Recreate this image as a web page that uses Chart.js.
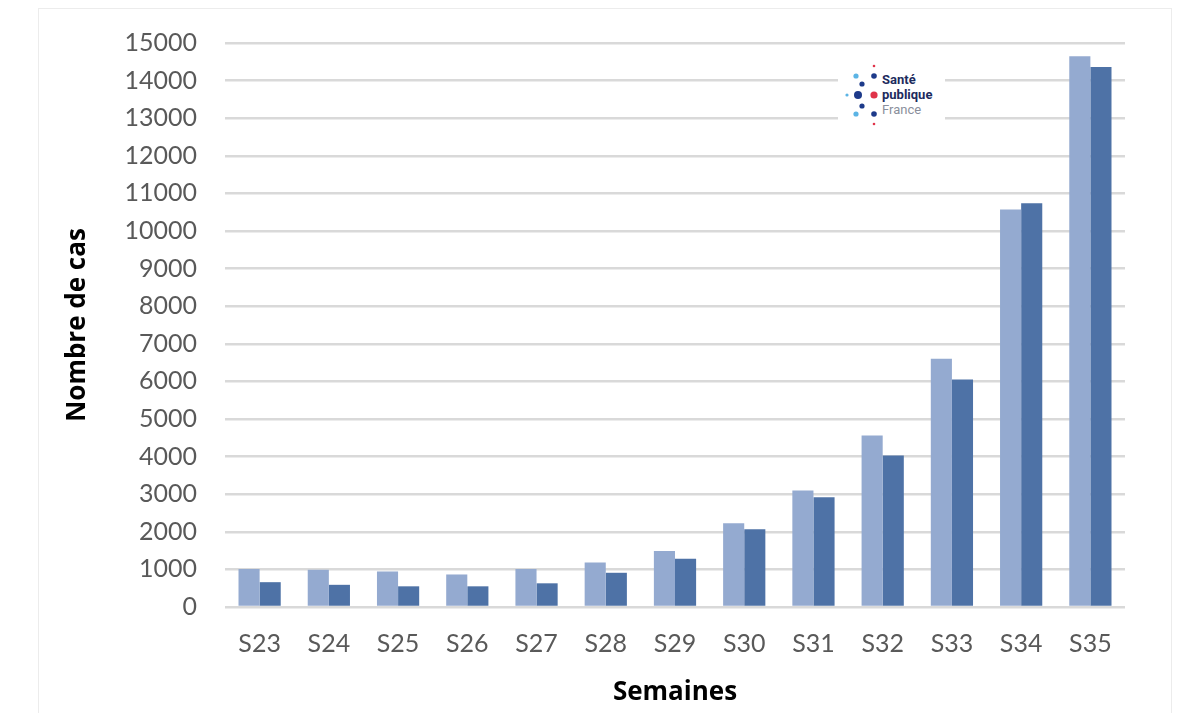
<!DOCTYPE html>
<html>
<head>
<meta charset="utf-8">
<script src="https://cdn.jsdelivr.net/npm/chart.js@4"></script>
<style>
    html, body { margin: 0; padding: 0; background: #fff; }
    #wrap { position: relative; width: 1200px; height: 713px; }
    #frame { position: absolute; left: 38px; top: 8px; width: 1132px; height: 720px; border: 1px solid #ececec; }
    #logo { position: absolute; left: 838px; top: 60px; width: 107px; height: 68px; background: #fff; }
    canvas { position: absolute; left: 0; top: 0; }
</style>
</head>
<body>
<div id="wrap">
    <div id="frame"></div>
    <canvas id="chart" width="1200" height="713"></canvas>
    <div id="logo">
        <svg width="107" height="68" viewBox="0 0 107 68">
            <circle cx="9" cy="35" r="1.6" fill="#5bb4e5"/>
            <circle cx="18" cy="16" r="2.6" fill="#5bb4e5"/>
            <circle cx="18" cy="54" r="2.6" fill="#5bb4e5"/>
            <circle cx="24" cy="24" r="2.6" fill="#1d3a8a"/>
            <circle cx="24" cy="46" r="2.6" fill="#1d3a8a"/>
            <circle cx="20" cy="35" r="4" fill="#1d3a8a"/>
            <circle cx="36" cy="35" r="3.6" fill="#e0334a"/>
            <circle cx="36" cy="16" r="2.8" fill="#1d3a8a"/>
            <circle cx="36" cy="54" r="2.8" fill="#1d3a8a"/>
            <circle cx="36" cy="6" r="1.3" fill="#e0334a"/>
            <circle cx="36" cy="64" r="1.3" fill="#e0334a"/>
            <text x="44" y="24" font-family="Roboto, sans-serif" font-weight="bold" font-size="13" fill="#1d2b5e">Santé</text>
            <text x="44" y="39" font-family="Roboto, sans-serif" font-weight="bold" font-size="13" fill="#1d2b5e">publique</text>
            <text x="44" y="54" font-family="Roboto, sans-serif" font-size="13" fill="#8a8f9c">France</text>
        </svg>
    </div>
</div>
<script>
// semaines et nombre de cas
const weeks = ['S23', 'S24', 'S25', 'S26', 'S27', 'S28', 'S29', 'S30', 'S31', 'S32', 'S33', 'S34', 'S35'];
const casesLight = [1010, 990, 945, 865, 1010, 1185, 1490, 2230, 3100, 4560, 6600, 10570, 14650];
const casesDark = [660, 590, 550, 550, 630, 910, 1280, 2070, 2920, 4030, 6050, 10740, 14360];
const yTicksMax = 15000;
const yTicksStep = 1000;

const tickColor = '#595959';
const gridColor = '#d9d9d9';
const tickFont = { family: 'Lato, sans-serif', size: 25 };
const titleFont = { family: '"Open Sans", sans-serif', size: 26, weight: 'bold' };

new Chart(document.getElementById('chart'), {
    type: 'bar',
    data: {
        labels: weeks,
        datasets: [
            { label: 'Série 1', data: casesLight, backgroundColor: '#94aad0', borderWidth: 0 },
            { label: 'Série 2', data: casesDark, backgroundColor: '#4e72a6', borderWidth: 0 }
        ]
    },
    options: {
        responsive: false,
        animation: false,
        devicePixelRatio: 1,
        layout: { padding: { left: 55, top: 24, right: 75, bottom: 0 } },
        plugins: { legend: { display: false }, tooltip: { enabled: false } },
        datasets: { bar: { barPercentage: 1, categoryPercentage: 0.61 } },
        scales: {
            x: {
                grid: { display: false, drawTicks: false },
                border: { display: false },
                ticks: { color: tickColor, font: tickFont, padding: 22, autoSkip: false, maxRotation: 0 },
                title: { display: true, text: 'Semaines', color: '#000', font: titleFont, padding: { top: 10, bottom: 5 } },
                afterFit: (scale) => { scale.height = 106; }
            },
            y: {
                min: 0,
                max: yTicksMax,
                grid: { color: gridColor, lineWidth: 2.5, drawTicks: false },
                border: { display: false },
                ticks: {
                    stepSize: yTicksStep,
                    color: tickColor,
                    font: tickFont,
                    padding: 28,
                    autoSkip: false,
                    callback: (value) => String(value)
                },
                title: { display: true, text: 'Nombre de cas', color: '#000', font: titleFont, padding: { top: 7, bottom: 0 } },
                afterFit: (scale) => { scale.width = 170; }
            }
        }
    }
});
</script>
</body>
</html>
